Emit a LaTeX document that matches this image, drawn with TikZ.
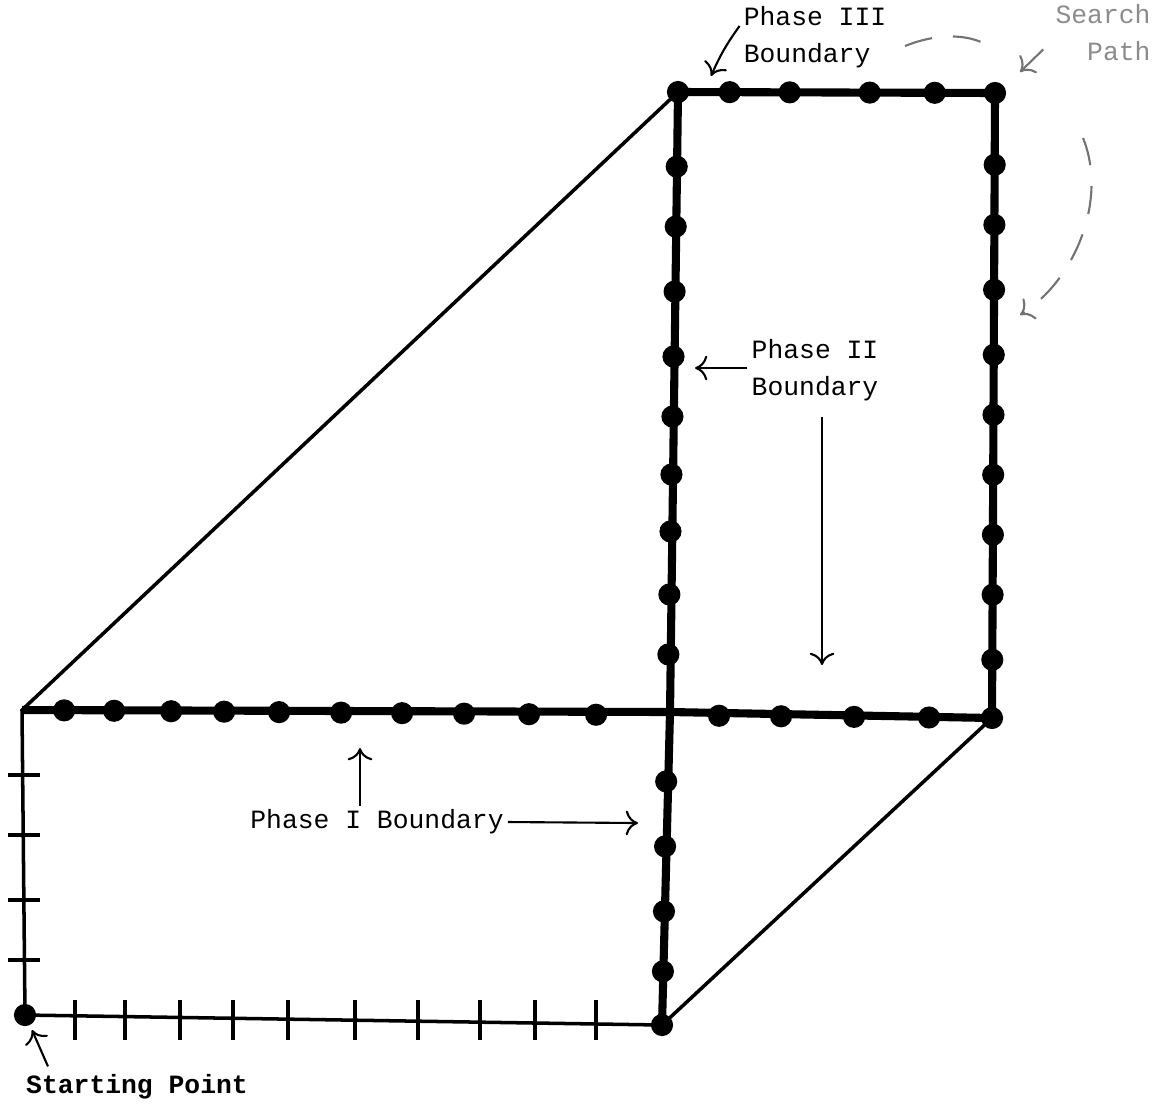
\documentclass[tikz,border=0pt]{standalone}
\usepackage{fontspec}
\setmonofont{Liberation Mono}
\usepackage{tikz}
\usetikzlibrary{positioning, arrows.meta, calc}

\tikzset{
  lbl/.style={font=\ttfamily\fontsize{7.5}{10.5}\selectfont, inner sep=1pt, align=left},
  rim/.style={line width=1pt},
  bound/.style={line width=2.3pt, line join=round},
  bead/.style={circle, fill, inner sep=0pt, minimum size=6.3pt},
  pointer/.style={-{To[length=3.5pt,width=7pt]}, line width=0.6pt},
  faint/.style={pointer, black!55, dash pattern=on 8pt off 6pt}
}

\begin{document}
\begin{tikzpicture}[x=0.01cm, y=-0.01cm]
\useasboundingbox (0,0) rectangle (1165,1109);

% corners of the region
\coordinate (S) at (25,1015);
\coordinate (L) at (22,710);
\coordinate (B) at (662,1025);
\coordinate (C) at (670,712);
\coordinate (R) at (992,718);
\coordinate (T) at (678,92);
\coordinate (Q) at (995,93);

% outline
\draw[rim] (S) -- (L) -- (T);
\draw[rim] (S) -- (B) -- (R);

% boundaries
\draw[bound] (L) -- (C) -- (R) -- (Q) -- (T) -- (C) -- (B);

% grid steps from the start
\foreach \y in {775,835,900,960}
  \draw[rim] (8,\y) -- (40,\y);
\foreach \x in {75,125,180,233,288,355,418,480,535,596}
  \draw[rim] (\x,1000) -- (\x,1040);

% points on the boundaries
\foreach \x [count=\i] in {70,120,177,230,285,347,408,470,535,602,725,787,860,935}
  \node[bead] (h\i) at ($(L)!(\x,0)!(R)$) {};
\foreach \y [count=\i] in {155,215,280,345,405,463,520,583,643,770,835,900,960}
  \node[bead] (v\i) at ($(T)!(0,\y)!(B)$) {};
\foreach \y [count=\i] in {160,220,285,350,410,470,530,590,655}
  \node[bead] (r\i) at ($(Q)!(0,\y)!(R)$) {};
\foreach \x [count=\i] in {730,790,870,935}
  \node[bead] (t\i) at ($(T)!(\x,0)!(Q)$) {};
\node[bead] (cS) at (S) {};
\node[bead] (cB) at (B) {};
\node[bead] (cR) at (R) {};
\node[bead] (cT) at (T) {};
\node[bead] (cQ) at (Q) {};

% labels
\node[lbl] (p3) at (815,37) {Phase III\\Boundary};
\coordinate (p3end) at (711,76);
\draw[pointer] ($(p3.west)+(0,-11)$) to[bend right=6] (p3end);

\node[lbl, black!45] (sp3) at (1103,33) {Search\\\ \ Path};
\coordinate (sp3top) at (1020,72);
\coordinate (sp3side) at (1020,315);
\draw[faint, -] (905,46) .. controls (940,32) and (972,34) .. (992,48);
\draw[pointer, black!55] ($(sp3.south west)+(-8,-16)$) -- (sp3top);
\draw[faint] (1083,138) .. controls (1108,200) and (1075,280) .. (sp3side);

\node[lbl] (p2) at (815,370) {Phase II\\Boundary};
\coordinate (p2side) at (695,368);
\coordinate (p2down) at (822,665);
\draw[pointer] (p2.west |- p2side) -- (p2side);
\draw[pointer] (p2down |- p2.south) ++(0,12) -- (p2down);

\node[lbl] (p1) at (377,822) {Phase I Boundary};
\coordinate (p1right) at (638,823);
\coordinate (p1up) at (360,748);
\draw[pointer] (p1.east) -- (p1right);
\draw[pointer] (p1up |- p1.north) -- (p1up);

\node[lbl, font=\ttfamily\bfseries\fontsize{7.5}{10.5}\selectfont, anchor=west] (sp) at (22,1087) {Starting Point};
\coordinate (spend) at (32,1030);
\draw[pointer] ($(sp.north west)+(26,-4)$) -- (spend);
\end{tikzpicture}
\end{document}
